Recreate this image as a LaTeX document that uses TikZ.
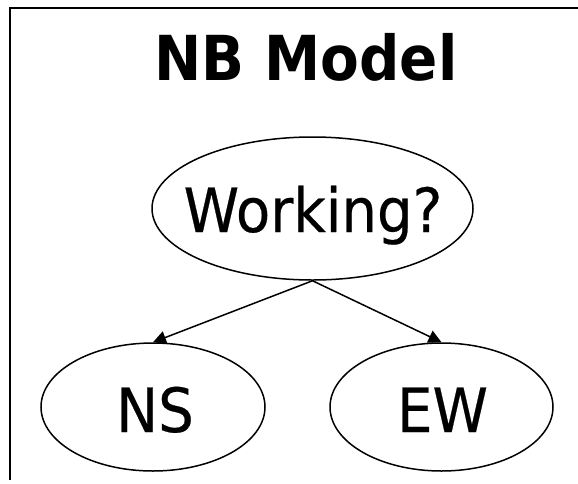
\documentclass[tikz,border=0pt]{standalone}
\usepackage{fontspec}
\usetikzlibrary{shapes.geometric,arrows.meta}
\newfontfamily\titlefont[FakeStretch=0.91]{DejaVu Sans Bold}
\newfontfamily\labelfont[FakeStretch=0.92,FakeBold=0.4]{DejaVu Sans}
\begin{document}
\begin{tikzpicture}[x=1pt,y=-1pt,
  frameline/.style={line width=2pt},
  bubble/.style={draw,ellipse,line width=1.5pt,fill=white,inner sep=0pt},
  bubbletext/.style={anchor=base,inner sep=0pt,font=\labelfont\fontsize{61pt}{66pt}\selectfont},
  link/.style={line width=1.5pt,-{Triangle[length=13pt,width=13pt]}}]
\useasboundingbox (0,0) rectangle (578,483);
% open frame: top and left edges only
\coordinate (ftop) at (578,8.3);
\coordinate (fcorner) at (10,8.3);
\coordinate (fbottom) at (10,480);
\draw[frameline] (ftop) -- (fcorner) -- (fbottom);
% title
\node[anchor=base,inner sep=0pt,font=\titlefont\fontsize{62pt}{70pt}\selectfont] (title) at (306,80) {NB Model};
% nodes
\node[bubble,minimum width=321pt,minimum height=143pt] (work) at (312.5,208.5) {};
\node[bubble,minimum width=224pt,minimum height=128pt] (ns) at (153,407) {};
\node[bubble,minimum width=223pt,minimum height=128pt] (ew) at (441.5,407) {};
\node[bubbletext] (worktext) at (313,232) {Working?};
\node[bubbletext] (nstext) at (155,432) {NS};
\node[bubbletext] (ewtext) at (442.5,432) {EW};
% edges
\draw[link] (work.south) -- (ns.north);
\draw[link] (work.south) -- (ew.north);
\end{tikzpicture}
\end{document}
